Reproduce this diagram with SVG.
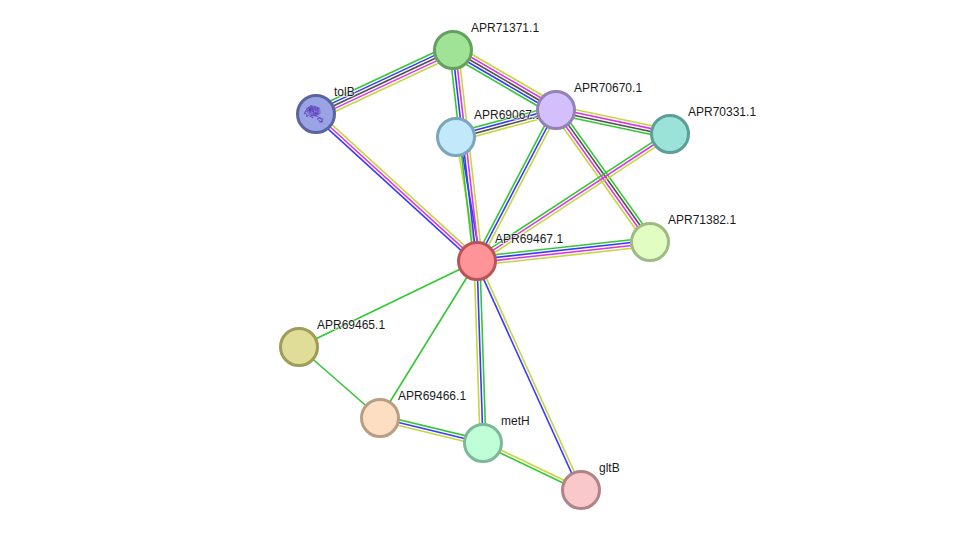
<svg xmlns="http://www.w3.org/2000/svg" width="976" height="535" viewBox="0 0 976 535">
<style>
  text { font-family: "Liberation Sans", Arial, sans-serif; font-size: 12px; fill: #1a1a1a; stroke: #ffffff; stroke-width: 1.5px; stroke-opacity: 0.75; paint-order: stroke; }
  line { stroke-width: 1.6; fill: none; }
  .g { stroke: #33c833; }
  .b { stroke: #3a3aff; }
  .k { stroke: #505050; }
  .m { stroke: #e034e0; }
  .y { stroke: #c6d63c; }
  circle { stroke-width: 3; }
</style>
<rect width="976" height="535" fill="#ffffff"/>
<g id="connectors">
  <g transform="translate(316,114) rotate(-25.04)">
    <line class="g" x2="151.2" y1="-5.8" y2="-5.8"/><line class="b" x2="151.2" y1="-2.9" y2="-2.9"/><line class="k" x2="151.2"/><line class="m" x2="151.2" y1="2.9" y2="2.9"/><line class="y" x2="151.2" y1="5.8" y2="5.8"/>
  </g>
  <g transform="translate(453,50) rotate(30.2)">
    <line class="y" x2="119.2" y1="-5.8" y2="-5.8"/><line class="m" x2="119.2" y1="-2.9" y2="-2.9"/><line class="k" x2="119.2"/><line class="b" x2="119.2" y1="2.9" y2="2.9"/><line class="g" x2="119.2" y1="5.8" y2="5.8"/>
  </g>
  <g transform="translate(316,114) rotate(42.4)">
    <line class="y" x2="218" y1="-2.9" y2="-2.9"/><line class="m" x2="218"/><line class="b" x2="218" y1="2.9" y2="2.9"/>
  </g>
  <g transform="translate(456,137) rotate(-15.1)">
    <line class="g" x2="103.6" y1="-4.35" y2="-4.35"/><line class="b" x2="103.6" y1="-1.45" y2="-1.45"/><line class="k" x2="103.6" y1="1.45" y2="1.45"/><line class="y" x2="103.6" y1="4.35" y2="4.35"/>
  </g>
  <!-- APR69067.1 to APR69467.1 runs under the APR71371.1 bundle near the hub -->
  <g transform="translate(456,137) rotate(80.4)">
    <line class="y" x2="125.8"/><line class="b" x2="125.8" y1="-3.5" y2="-3.5"/>
  </g>
  <g transform="translate(454,50) rotate(83.5)">
    <line class="y" x2="212.4" y1="-4.35" y2="-4.35"/><line class="m" x2="212.4" y1="-1.45" y2="-1.45"/><line class="b" x2="212.4" y1="1.45" y2="1.45"/><line class="g" x2="212.4" y1="4.35" y2="4.35"/>
  </g>
  <g transform="translate(556,110) rotate(11.9)">
    <line class="y" x2="116.5" y1="-4.35" y2="-4.35"/><line class="m" x2="116.5" y1="-1.45" y2="-1.45"/><line class="k" x2="116.5" y1="1.45" y2="1.45"/><line class="g" x2="116.5" y1="4.35" y2="4.35"/>
  </g>
  <g transform="translate(556,110) rotate(54.5)">
    <line class="g" x2="162" y1="-4.35" y2="-4.35"/><line class="k" x2="162" y1="-1.45" y2="-1.45"/><line class="m" x2="162" y1="1.45" y2="1.45"/><line class="y" x2="162" y1="4.35" y2="4.35"/>
  </g>
  <g transform="translate(556,110) rotate(117.6)">
    <line class="y" x2="170.4" y1="-2.9" y2="-2.9"/><line class="b" x2="170.4"/><line class="g" x2="170.4" y1="2.9" y2="2.9"/>
  </g>
  <g transform="translate(670,134) rotate(146.7)">
    <line class="y" x2="231" y1="-2.9" y2="-2.9"/><line class="m" x2="231"/><line class="g" x2="231" y1="2.9" y2="2.9"/>
  </g>
  <g transform="translate(477,261) rotate(-6.27)">
    <line class="g" x2="174" y1="-4.35" y2="-4.35"/><line class="b" x2="174" y1="-1.45" y2="-1.45"/><line class="m" x2="174" y1="1.45" y2="1.45"/><line class="y" x2="174" y1="4.35" y2="4.35"/>
  </g>
  <line class="g" x1="477" y1="261" x2="299" y2="347"/>
  <line class="g" x1="299" y1="347" x2="380" y2="418"/>
  <line class="g" x1="477" y1="261" x2="380" y2="418"/>
  <g transform="translate(477,261) rotate(88.1)">
    <line class="g" x2="182.1" y1="-2.9" y2="-2.9"/><line class="b" x2="182.1"/><line class="y" x2="182.1" y1="2.9" y2="2.9"/>
  </g>
  <g transform="translate(477,261) rotate(65.6)">
    <line class="y" x2="251.5" y1="-1.45" y2="-1.45"/><line class="b" x2="251.5" y1="1.45" y2="1.45"/>
  </g>
  <g transform="translate(380,418) rotate(13.6)">
    <line class="g" x2="106" y1="-2.9" y2="-2.9"/><line class="b" x2="106"/><line class="y" x2="106" y1="2.9" y2="2.9"/>
  </g>
  <g transform="translate(483,443) rotate(25.6)">
    <line class="y" x2="108.7" y1="-1.45" y2="-1.45"/><line class="g" x2="108.7" y1="1.45" y2="1.45"/>
  </g>
</g>
<g id="tolB">
  <circle cx="316" cy="114" r="18.5" fill="#9aa3e3" stroke="#5a659f"/>
  <!-- protein structure thumbnail -->
  <path d="M306 108l5-3 5 1 4 2 1 5-4 3-6 0-4-3z" fill="#6a50c8" fill-opacity="0.55"/>
  <g fill="none" stroke="#5a3fb8" stroke-width="0.7">
    <path d="M306 110l3-3 1 5 2-6 1 6 2-6 1 5 2-4 0 5-3 1 4 1-6 0 3 2-5-1 2 3-5-3-1 2-1-4-2 1z"/>
    <path d="M308 108l8 6M311 105l-1 9M305 112l9-4M316 116l7 3-2 3-4-3 3-1 3 4-4 0"/>
  </g>
  <text x="334" y="96">tolB</text>
</g>
<g id="APR69067.1">
  <circle cx="456" cy="137" r="18.5" fill="#c2e8fc" stroke="#7aa6bd"/>
  <text x="474" y="119">APR69067.1</text>
</g>
<g id="APR71371.1">
  <circle cx="453" cy="50" r="18.5" fill="#a0e296" stroke="#64a15e"/>
  <text x="471" y="32">APR71371.1</text>
</g>
<g id="APR70670.1">
  <circle cx="556" cy="110" r="18.5" fill="#d3bffc" stroke="#9381b8"/>
  <text x="574" y="92">APR70670.1</text>
</g>
<g id="APR70331.1">
  <circle cx="670" cy="134" r="18.5" fill="#9be2d8" stroke="#5c9f98"/>
  <text x="688" y="116">APR70331.1</text>
</g>
<g id="APR71382.1">
  <circle cx="650" cy="242" r="18.5" fill="#e2fdc2" stroke="#9fbb85"/>
  <text x="668" y="224">APR71382.1</text>
</g>
<g id="APR69467.1">
  <circle cx="477" cy="261" r="18.5" fill="#ff9498" stroke="#b85458"/>
  <text x="495" y="243">APR69467.1</text>
</g>
<g id="APR69465.1">
  <circle cx="299" cy="347" r="18.5" fill="#e0dd98" stroke="#9d9c58"/>
  <text x="317" y="329">APR69465.1</text>
</g>
<g id="APR69466.1">
  <circle cx="380" cy="418" r="18.5" fill="#fedec2" stroke="#b89e82"/>
  <text x="398" y="400">APR69466.1</text>
</g>
<g id="metH">
  <circle cx="483" cy="443" r="18.5" fill="#c0fed8" stroke="#7db897"/>
  <text x="501" y="425">metH</text>
</g>
<g id="gltB">
  <circle cx="581" cy="490" r="18.5" fill="#f8c8ca" stroke="#b08487"/>
  <text x="599" y="472">gltB</text>
</g>
</svg>
